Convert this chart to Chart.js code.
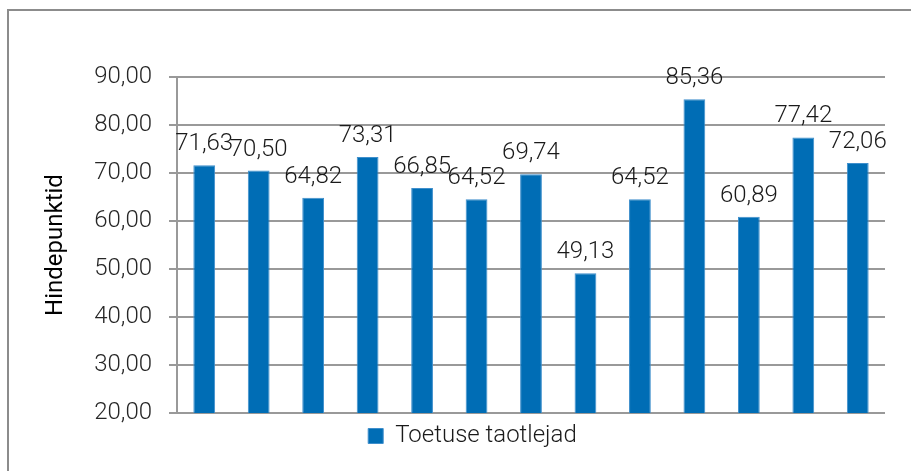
<!DOCTYPE html>
<html>
<head>
<meta charset="utf-8">
<script src="https://cdn.jsdelivr.net/npm/chart.js@4"></script>
<style>
  html, body { margin: 0; padding: 0; background: #fff; overflow: hidden; }
  #frame { position: absolute; left: 7px; top: 9px; width: 1000px; height: 600px; border: 2px solid #8c8c8c; }
  #wrap { position: absolute; left: 0; top: 0; width: 911px; height: 471px; }
</style>
</head>
<body>
<div id="frame"></div>
<div id="wrap"><canvas id="chart" width="911" height="471"></canvas></div>
<script>
// ── Data ────────────────────────────────────────────────────

const categories = ["1", "2", "3", "4", "5", "6", "7", "8", "9", "10", "11", "12", "13"];
const seriesName = "Toetuse taotlejad";
const seriesValues = [71.63, 70.50, 64.82, 73.31, 66.85, 64.52, 69.74, 49.13, 64.52, 85.36, 60.89, 77.42, 72.06];
const yTicks = [20, 30, 40, 50, 60, 70, 80, 90];
const yTitle = "Hindepunktid";

const FONT = "Roboto";
const fmt = v => v.toFixed(2).replace(".", ",");

// ── Value labels above bars ─────────────────────────────────

const valueLabels = {
  id: "valueLabels",
  afterDatasetsDraw(chart) {
    const ctx = chart.ctx;
    const meta = chart.getDatasetMeta(0);
    ctx.save();
    ctx.font = `300 24px ${FONT}`;
    ctx.fillStyle = "#1a1a1a";
    ctx.textAlign = "center";
    ctx.textBaseline = "alphabetic";
    meta.data.forEach((bar, i) => {
      ctx.fillText(fmt(seriesValues[i]), bar.x, bar.y - 15);
    });
    ctx.restore();
  },
};

// ── Chart ───────────────────────────────────────────────────

new Chart(document.getElementById("chart"), {
  type: "bar",
  data: {
    labels: categories,
    datasets: [{
      label: seriesName,
      data: seriesValues,
      backgroundColor: "#006db5",
      borderColor: "#3f8fcc",
      borderWidth: 1,
      barPercentage: 0.8,
      categoryPercentage: 0.5,
    }],
  },
  plugins: [valueLabels],
  options: {
    responsive: false,
    animation: false,
    layout: { padding: { left: 60, right: 26, top: 77, bottom: 13 } },
    plugins: {
      tooltip: { enabled: false },
      legend: {
        position: "bottom",
        align: "center",
        labels: {
          boxWidth: 15,
          boxHeight: 15,
          padding: 11,
          color: "#1a1a1a",
          font: { family: FONT, size: 24, weight: "300" },
        },
      },
    },
    scales: {
      x: { display: false },
      y: {
        min: 20,
        max: 90,
        afterFit(scale) { scale.width = 117; },
        afterBuildTicks(scale) { scale.ticks = yTicks.map(v => ({ value: v })); },
        grid: { color: "#999999", lineWidth: 2, tickLength: 8 },
        border: { display: true, color: "#999999", width: 2 },
        ticks: {
          padding: 17,
          color: "#262626",
          font: { family: FONT, size: 24, weight: "300" },
          callback: v => fmt(v),
        },
        title: {
          display: true,
          text: yTitle,
          color: "#000000",
          padding: -18,
          font: { family: FONT, size: 24, weight: "400" },
        },
      },
    },
  },
});
</script>
</body>
</html>
